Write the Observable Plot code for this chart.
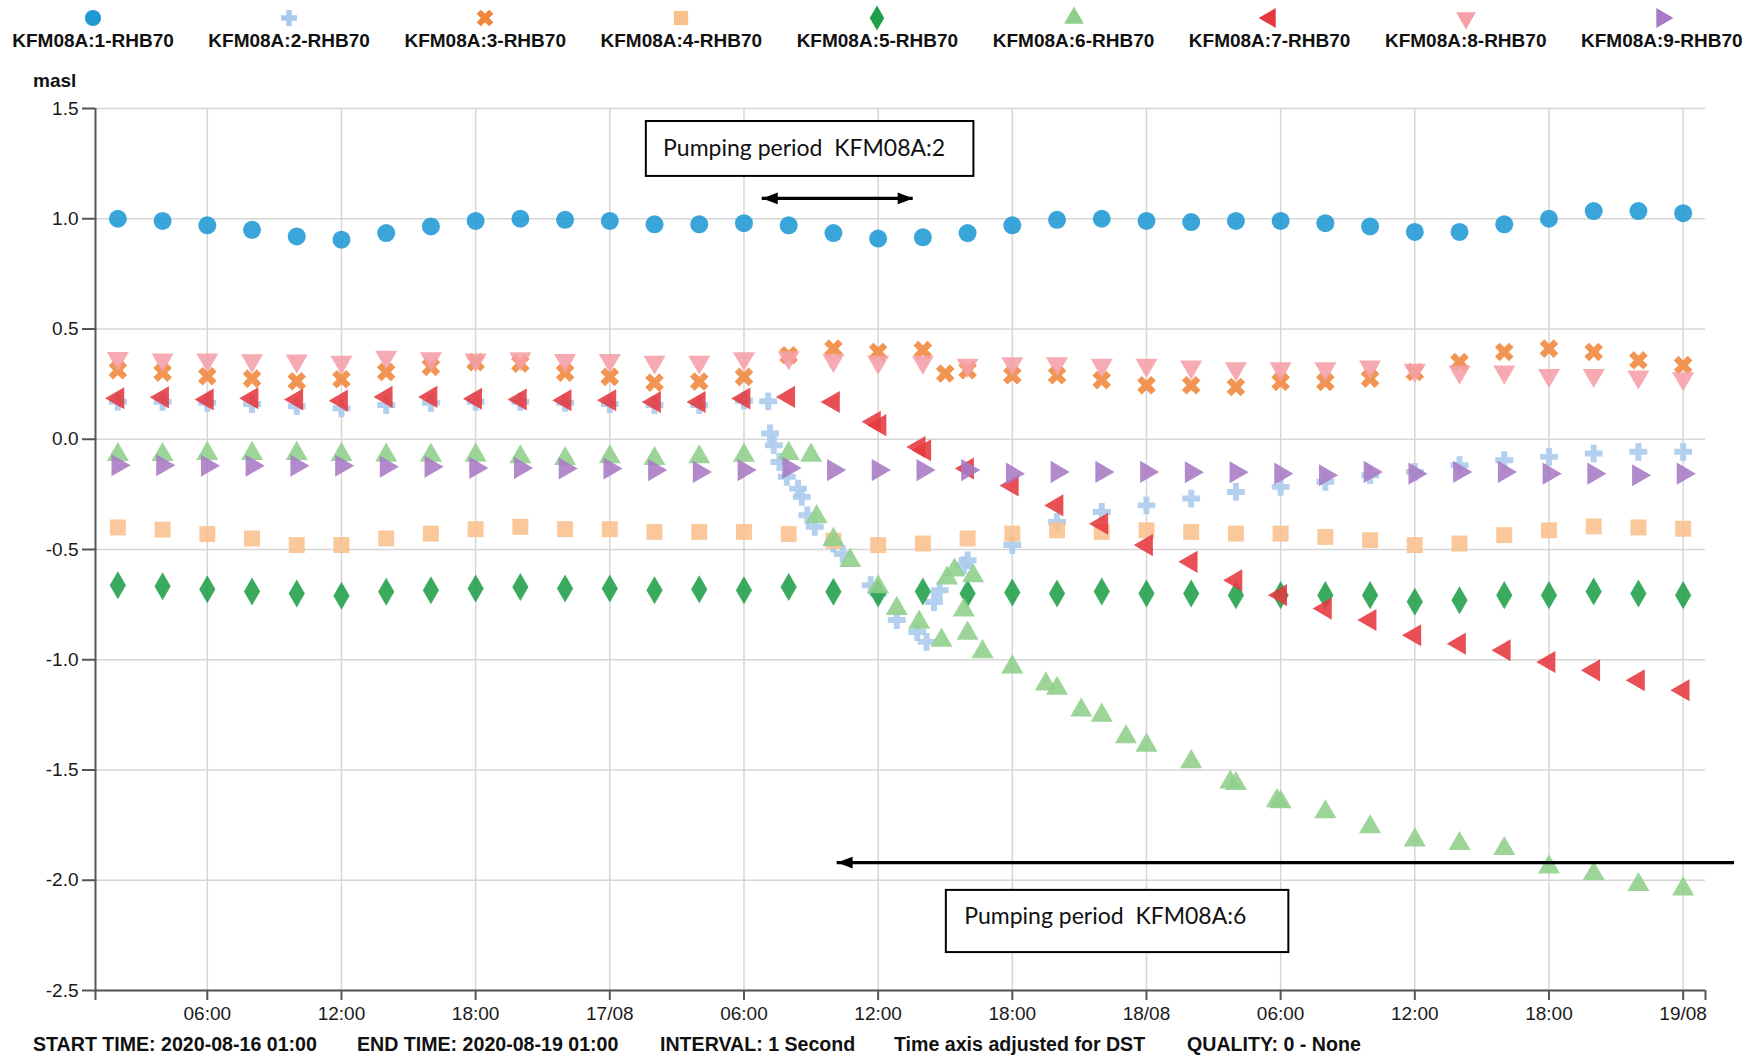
<!DOCTYPE html>
<html><head><meta charset="utf-8">
<script src="https://cdn.jsdelivr.net/npm/d3@7"></script>
<script src="https://cdn.jsdelivr.net/npm/@observablehq/plot@0.6"></script>
<style>
html,body{margin:0;padding:0;background:#fff;width:1746px;height:1058px;overflow:hidden;font-family:"Liberation Sans",Arial,sans-serif;color:#111;}
.lg{position:absolute;top:0;width:196px;text-align:center;}
.lg svg{display:block;margin:3px auto 0 auto;}
.lg div{font-weight:bold;font-size:19px;line-height:22px;white-space:nowrap;margin-top:-3px;}
#ylabel{position:absolute;left:33px;top:69px;font-weight:bold;font-size:19px;line-height:23px;}
#chart{position:absolute;left:0;top:60px;}
.ft{position:absolute;top:1033px;font-weight:bold;font-size:19.6px;line-height:23px;white-space:nowrap;}
svg text{white-space:pre;}
</style></head><body>
<div id="legend"></div>
<div id="ylabel">masl</div>
<div id="chart"></div>
<div id="footer"></div>
<script>
// ---------- DATA ----------
const seriesNames = ["KFM08A:1-RHB70","KFM08A:2-RHB70","KFM08A:3-RHB70","KFM08A:4-RHB70","KFM08A:5-RHB70","KFM08A:6-RHB70","KFM08A:7-RHB70","KFM08A:8-RHB70","KFM08A:9-RHB70"];

const sampleTimes = [
 "2020-08-16 02:00","2020-08-16 04:00","2020-08-16 06:00","2020-08-16 08:00","2020-08-16 10:00","2020-08-16 12:00",
 "2020-08-16 14:00","2020-08-16 16:00","2020-08-16 18:00","2020-08-16 20:00","2020-08-16 22:00","2020-08-17 00:00",
 "2020-08-17 02:00","2020-08-17 04:00","2020-08-17 06:00","2020-08-17 08:00","2020-08-17 10:00","2020-08-17 12:00",
 "2020-08-17 14:00","2020-08-17 16:00","2020-08-17 18:00","2020-08-17 20:00","2020-08-17 22:00","2020-08-18 00:00",
 "2020-08-18 02:00","2020-08-18 04:00","2020-08-18 06:00","2020-08-18 08:00","2020-08-18 10:00","2020-08-18 12:00",
 "2020-08-18 14:00","2020-08-18 16:00","2020-08-18 18:00","2020-08-18 20:00","2020-08-18 22:00","2020-08-19 00:00"];

const s1Values = [1.0,0.99,0.97,0.95,0.92,0.905,0.935,0.965,0.99,1.0,0.995,0.99,
 0.975,0.975,0.98,0.97,0.935,0.91,0.916,0.935,0.97,0.995,1.0,0.99,
 0.985,0.99,0.99,0.98,0.965,0.94,0.94,0.975,1.0,1.035,1.035,1.025];

const s2PumpTimes = ["2020-08-17 07:05","2020-08-17 07:10","2020-08-17 07:20","2020-08-17 07:35","2020-08-17 07:55",
 "2020-08-17 08:25","2020-08-17 08:35","2020-08-17 08:50","2020-08-17 09:10","2020-08-17 10:00","2020-08-17 10:25",
 "2020-08-17 11:40","2020-08-17 12:00","2020-08-17 12:50","2020-08-17 13:45","2020-08-17 14:10","2020-08-17 14:30",
 "2020-08-17 14:45","2020-08-17 15:50","2020-08-17 16:00","2020-08-17 18:00","2020-08-17 20:00","2020-08-17 22:00"];
const s2Times = [...sampleTimes.slice(0, 15), ...s2PumpTimes, ...sampleTimes.slice(23)];
const s2Values = [0.17,0.17,0.165,0.16,0.15,0.14,0.155,0.165,0.17,0.17,0.165,0.16,0.155,0.155,0.175,
 0.172,0.026,-0.027,-0.103,-0.17,-0.224,-0.261,-0.345,-0.397,-0.473,-0.52,-0.662,-0.70,-0.82,-0.874,-0.919,-0.738,-0.685,-0.571,-0.549,-0.48,-0.375,-0.33,
 -0.30,-0.269,-0.239,-0.216,-0.193,-0.163,-0.148,-0.118,-0.095,-0.08,-0.065,-0.057,-0.057];

const s3Times = [...sampleTimes.slice(0, 19), "2020-08-17 15:00", ...sampleTimes.slice(19)];
const s3Values = [0.313,0.302,0.286,0.275,0.263,0.272,0.305,0.328,0.35,0.343,0.302,0.283,0.257,0.262,0.283,0.381,0.411,0.396,0.404,
 0.298,
 0.313,0.29,0.29,0.268,0.245,0.245,0.237,0.26,0.26,0.275,0.305,0.35,0.396,0.411,0.396,0.358,0.336];

const s4Values = [-0.40,-0.41,-0.43,-0.45,-0.48,-0.48,-0.45,-0.428,-0.408,-0.397,-0.408,-0.408,
 -0.42,-0.42,-0.42,-0.43,-0.46,-0.48,-0.473,-0.45,-0.428,-0.413,-0.42,-0.413,
 -0.42,-0.428,-0.428,-0.443,-0.458,-0.48,-0.473,-0.435,-0.413,-0.395,-0.40,-0.406];

const s5Values = [-0.662,-0.667,-0.68,-0.69,-0.70,-0.71,-0.692,-0.685,-0.677,-0.67,-0.677,-0.677,
 -0.685,-0.68,-0.685,-0.67,-0.692,-0.70,-0.69,-0.70,-0.695,-0.70,-0.69,-0.70,
 -0.70,-0.707,-0.707,-0.707,-0.707,-0.737,-0.73,-0.707,-0.707,-0.69,-0.70,-0.707];

const s6PumpTimes = ["2020-08-17 09:00","2020-08-17 09:15","2020-08-17 10:00","2020-08-17 10:45","2020-08-17 12:00",
 "2020-08-17 12:50","2020-08-17 13:50","2020-08-17 14:50","2020-08-17 15:05","2020-08-17 15:25","2020-08-17 15:50",
 "2020-08-17 16:00","2020-08-17 16:15","2020-08-17 16:40","2020-08-17 18:00","2020-08-17 19:30","2020-08-17 20:00",
 "2020-08-17 21:05","2020-08-17 22:00","2020-08-17 23:05","2020-08-18 00:00","2020-08-18 02:00","2020-08-18 03:45",
 "2020-08-18 04:00","2020-08-18 05:50","2020-08-18 06:00"];
const s6Times = [...sampleTimes.slice(0, 16), ...s6PumpTimes, ...sampleTimes.slice(27)];
const s6Values = [-0.07,-0.07,-0.065,-0.065,-0.065,-0.07,-0.073,-0.073,-0.073,-0.08,-0.088,-0.08,-0.088,-0.08,-0.073,-0.065,
 -0.073,-0.352,-0.455,-0.55,-0.67,-0.768,-0.83,-0.912,-0.63,-0.594,-0.775,-0.88,-0.62,-0.964,-1.033,-1.11,-1.13,-1.229,-1.252,-1.35,
 -1.388,-1.463,-1.555,-1.562,-1.64,-1.645,
 -1.69,-1.758,-1.818,-1.834,-1.857,-1.94,-1.97,-2.02,-2.04];

const s7Times = [...sampleTimes.slice(0, 17), "2020-08-17 11:50","2020-08-17 12:05","2020-08-17 13:50","2020-08-17 14:05", ...sampleTimes.slice(19)];
const s7Values = [0.186,0.19,0.18,0.186,0.18,0.175,0.192,0.192,0.184,0.18,0.177,0.177,0.169,0.169,0.185,0.192,0.169,
 0.079,0.064,-0.035,-0.05,
 -0.133,-0.21,-0.3,-0.383,-0.48,-0.556,-0.64,-0.707,-0.768,-0.82,-0.889,-0.927,-0.957,-1.01,-1.048,-1.093,-1.138];

const s8Values = [0.367,0.36,0.36,0.357,0.355,0.35,0.373,0.366,0.36,0.366,0.358,0.358,
 0.35,0.35,0.366,0.37,0.358,0.35,0.35,0.336,0.343,0.343,0.336,0.336,
 0.328,0.32,0.32,0.32,0.328,0.313,0.305,0.305,0.29,0.29,0.283,0.275];

const s9Values = [-0.118,-0.118,-0.12,-0.12,-0.12,-0.12,-0.125,-0.125,-0.13,-0.13,-0.133,-0.133,
 -0.14,-0.148,-0.14,-0.13,-0.14,-0.14,-0.14,-0.14,-0.156,-0.148,-0.148,-0.148,
 -0.15,-0.15,-0.156,-0.163,-0.148,-0.156,-0.148,-0.148,-0.156,-0.156,-0.163,-0.156];

const yTicks = [1.5, 1.0, 0.5, 0.0, -0.5, -1.0, -1.5, -2.0, -2.5];
const xTickTimes = ["2020-08-16 06:00","2020-08-16 12:00","2020-08-16 18:00","2020-08-17 00:00","2020-08-17 06:00","2020-08-17 12:00",
 "2020-08-17 18:00","2020-08-18 00:00","2020-08-18 06:00","2020-08-18 12:00","2020-08-18 18:00","2020-08-19 00:00"];
const xDomainTimes = ["2020-08-16 01:00","2020-08-19 01:00"];

const boxNotes = [
 {x1:"2020-08-17 01:38", x2:"2020-08-17 16:17", y1:1.441, y2:1.192, tx:"2020-08-17 02:23", ty:1.319, label:"Pumping period  KFM08A:2"},
 {x1:"2020-08-17 15:03", x2:"2020-08-18 06:22", y1:-2.046, y2:-2.328, tx:"2020-08-17 15:51", ty:-2.164, label:"Pumping period  KFM08A:6"}
];
const arrowNotes = [
 {x1:"2020-08-17 06:49", x2:"2020-08-17 13:34", y:1.092, leftHead:true, rightHead:true},
 {x1:"2020-08-17 10:10", x2:"2020-08-19 02:18", y:-1.92, leftHead:true, rightHead:false}
];
const footerTexts = ["START TIME: 2020-08-16 01:00","END TIME: 2020-08-19 01:00","INTERVAL: 1 Second","Time axis adjusted for DST","QUALITY: 0 - None"];

// ---------- SYMBOLS ----------
const parseT = d3.utcParse("%Y-%m-%d %H:%M");
const sqrt3 = Math.sqrt(3);
function rotPath(ctx, pts, a) {
  const c = Math.cos(a), s = Math.sin(a);
  pts.forEach(([px, py], i) => { const X = px*c - py*s, Y = px*s + py*c; i ? ctx.lineTo(X, Y) : ctx.moveTo(X, Y); });
  ctx.closePath();
}
function tri(deg) {
  return {draw(ctx, size) {
    const y = -Math.sqrt(size / (sqrt3 * 3));
    rotPath(ctx, [[0, y*2], [-sqrt3*y, -y], [sqrt3*y, -y]], deg*Math.PI/180);
  }};
}
const timesFilled = {draw(ctx, size) {
  const r = Math.sqrt(size / 5) / 2;
  rotPath(ctx, [[-3*r,-r],[-r,-r],[-r,-3*r],[r,-3*r],[r,-r],[3*r,-r],[3*r,r],[r,r],[r,3*r],[-r,3*r],[-r,r],[-3*r,r]], Math.PI/4);
}};
function head(deg) { // apex at origin
  return {draw(ctx, size) {
    const L = Math.sqrt(size) * 1.25, W = Math.sqrt(size) * 0.95;
    rotPath(ctx, [[0,0],[-L,-W/2],[-L,W/2]], deg*Math.PI/180);
  }};
}

const seriesStyle = [
 {symbol: d3.symbolCircle, color:"#1f99d4", r:9},
 {symbol: d3.symbolCross, color:"#a9c9ec", r:7.5},
 {symbol: timesFilled, color:"#f0863a", r:8.3},
 {symbol: d3.symbolSquare, color:"#f9c08c", r:9},
 {symbol: d3.symbolDiamond, color:"#1f9f48", r:8.5},
 {symbol: tri(0), color:"#8fcf8b", r:8.2},
 {symbol: tri(-90), color:"#e5383f", r:8.2},
 {symbol: tri(180), color:"#f59fa8", r:8.2},
 {symbol: tri(90), color:"#a77ac5", r:8.2}
];
const seriesTimes = [sampleTimes, s2Times, s3Times, sampleTimes, sampleTimes, s6Times, s7Times, sampleTimes, sampleTimes];
const seriesValues = [s1Values, s2Values, s3Values, s4Values, s5Values, s6Values, s7Values, s8Values, s9Values];

const rows = seriesNames.map((name, k) => seriesTimes[k].map((t, i) => ({series: name, time: parseT(t), value: seriesValues[k][i]})));

// ---------- LEGEND ----------
const legend = document.getElementById("legend");
seriesNames.forEach((name, k) => {
  const cx = 93 + 196.1 * k;
  const st = seriesStyle[k];
  const item = document.createElement("div");
  item.className = "lg";
  item.style.left = (cx - 98) + "px";
  const p = d3.symbol(st.symbol, Math.PI * st.r * st.r * 0.8)();
  item.innerHTML = `<svg width="30" height="30" viewBox="-15 -15 30 30"><path d="${p}" fill="${st.color}"></path></svg><div>${name}</div>`;
  legend.appendChild(item);
});

// ---------- FOOTER ----------
const footerX = [33, 357, 660, 894, 1187];
const footer = document.getElementById("footer");
footerTexts.forEach((t, i) => {
  const s = document.createElement("div");
  s.className = "ft"; s.style.left = footerX[i] + "px"; s.textContent = t;
  footer.appendChild(s);
});

// ---------- PLOT ----------
const xTicks = xTickTimes.map(parseT);
const [xStart, xEnd] = xDomainTimes.map(parseT);
const fmtDay = d3.utcFormat("%d/%m"), fmtHour = d3.utcFormat("%H:%M");
const boxes = boxNotes.map(b => ({...b, x1: parseT(b.x1), x2: parseT(b.x2), tx: parseT(b.tx)}));
const arrows = arrowNotes.map(a => ({...a, x1: parseT(a.x1), x2: parseT(a.x2)}));

const H = 975, mT = 48, mB = 45;
const dotMarks = rows.map((data, k) => Plot.dot(data, {
  x: "time", y: "value", symbol: seriesStyle[k].symbol, fill: seriesStyle[k].color,
  r: seriesStyle[k].r, fillOpacity: 0.88
}));

const chart = Plot.plot({
  width: 1746, height: H, marginTop: mT, marginBottom: mB, marginLeft: 95, marginRight: 41,
  x: {type: "utc", domain: [xStart, xEnd]},
  y: {domain: [-2.5, 1.5]},
  style: {fontFamily: "'Liberation Sans', Arial, sans-serif", fontSize: "19px", color: "#1a1a1a", background: "transparent", overflow: "visible"},
  marks: [
    Plot.gridY(yTicks, {stroke: "#d6d6d6", strokeOpacity: 1, strokeWidth: 1.5}),
    Plot.gridX(xTicks, {stroke: "#d6d6d6", strokeOpacity: 1, strokeWidth: 1.5}),
    Plot.ruleY([-2.5], {stroke: "#555", strokeWidth: 2}),
    Plot.ruleX([xStart], {stroke: "#555", strokeWidth: 2, insetBottom: -10}),
    Plot.ruleX([xEnd], {stroke: "#555", strokeWidth: 2, insetTop: H - mT - mB, insetBottom: -10}),
    Plot.axisY(yTicks, {tickSize: 13, tickPadding: 4, tickFormat: d => d.toFixed(1), stroke: "#555", strokeWidth: 2, label: null}),
    Plot.axisX(xTicks, {tickSize: 10, tickPadding: 6, tickFormat: d => d.getUTCHours() === 0 ? fmtDay(d) : fmtHour(d), stroke: "#555", strokeWidth: 2, label: null}),
    ...dotMarks,
    Plot.rect(boxes, {x1: "x1", x2: "x2", y1: "y1", y2: "y2", fill: "white", stroke: "black", strokeWidth: 2}),
    Plot.text(boxes, {x: "tx", y: "ty", text: "label", textAnchor: "start", fontSize: 23, fontFamily: "Lato, 'Open Sans', sans-serif", fill: "#111"}),
    Plot.ruleY(arrows, {y: "y", x1: "x1", x2: "x2", stroke: "black", strokeWidth: 3.2}),
    Plot.dot(arrows.filter(a => a.leftHead), {x: "x1", y: "y", symbol: head(180), fill: "black", r: 7}),
    Plot.dot(arrows.filter(a => a.rightHead), {x: "x2", y: "y", symbol: head(0), fill: "black", r: 7})
  ]
});
document.getElementById("chart").appendChild(chart);
</script>
</body></html>
